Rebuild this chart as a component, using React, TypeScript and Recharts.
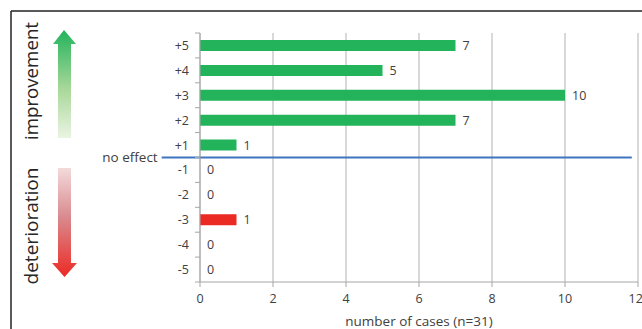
import React from 'react';
import { BarChart, Bar, XAxis, YAxis, CartesianGrid, Cell, LabelList, ReferenceLine } from 'recharts';

const categories = ['+5', '+4', '+3', '+2', '+1', '-1', '-2', '-3', '-4', '-5'];
const cases = [7, 5, 10, 7, 1, 0, 0, 1, 0, 0];
const xTicks = [0, 2, 4, 6, 8, 10, 12];
const noEffectFrom = -1.05;
const noEffectTo = 11.83;

const data = categories.map((c, i) => ({ category: c, cases: cases[i] }));

const GREEN = '#22B35B';
const RED = '#EC2A24';
const FONT = '"Open Sans", "Liberation Sans", sans-serif';
const TEXT = '#404040';

const YTick = (props: any) => {
  const { x, y, payload, index, visibleTicksCount } = props;
  const half = payload && payload.offset ? payload.offset : 12.45;
  const axisX = x + 11;
  const last = index === (visibleTicksCount ?? categories.length) - 1;
  return (
    <g>
      <line x1={axisX - 5} x2={axisX} y1={y - half} y2={y - half} stroke="#A6A6A6" />
      {last && <line x1={axisX - 5} x2={axisX} y1={y + half} y2={y + half} stroke="#A6A6A6" />}
      <text x={x} y={y} dy={4.5} textAnchor="end" fontSize={12.5} fill={TEXT} fontFamily={FONT}>
        {payload.value}
      </text>
    </g>
  );
};

export default function App() {
  return (
    <div style={{ position: 'fixed', left: 0, top: 0, width: 642, height: 329, background: '#fff' }}>
      <BarChart
        width={642}
        height={329}
        data={data}
        layout="vertical"
        margin={{ top: 33, right: 4, bottom: 0, left: 0 }}
        barSize={11}
      >
        <CartesianGrid horizontal={false} vertical={true} stroke="#BFBFBF" strokeWidth={1.2} />
        <XAxis
          type="number"
          dataKey="cases"
          domain={[0, 12]}
          ticks={xTicks}
          height={47}
          stroke="#A6A6A6"
          tickSize={5}
          tickMargin={7}
          tick={{ fontSize: 12.5, fill: TEXT, fontFamily: FONT }}
          label={{
            value: 'number of cases (n=31)',
            position: 'insideBottom',
            offset: 3,
            fontSize: 13.5,
            fill: TEXT,
            fontFamily: FONT,
          }}
        />
        <YAxis
          type="category"
          dataKey="category"
          width={200}
          stroke="#A6A6A6"
          tickLine={false}
          tickSize={0}
          tickMargin={11}
          tick={<YTick />}
          interval={0}
        />
        <Bar dataKey="cases" isAnimationActive={false} minPointSize={0.01}>
          {data.map((d, i) => (
            <Cell key={i} fill={d.category.startsWith('+') ? GREEN : RED} />
          ))}
          <LabelList
            dataKey="cases"
            position="right"
            offset={7}
            fill={TEXT}
            fontSize={12.5}
            fontFamily={FONT}
          />
        </Bar>
        <ReferenceLine
          segment={[
            { x: noEffectFrom, y: '+1' },
            { x: noEffectTo, y: '+1' },
          ]}
          position="end"
          ifOverflow="visible"
          stroke="#3F74C0"
          strokeWidth={2}
          label={{ value: 'no effect', position: 'left', offset: 4, fontSize: 13.5, fill: TEXT, fontFamily: FONT }}
        />
      </BarChart>
      <svg
        width={642}
        height={329}
        style={{ position: 'absolute', left: 0, top: 0, pointerEvents: 'none' }}
      >
        <defs>
          <linearGradient id="gUp" x1="0" y1="0" x2="0" y2="1">
            <stop offset="0%" stopColor="#22B35B" />
            <stop offset="55%" stopColor="#A9D89A" />
            <stop offset="100%" stopColor="#EAF4E2" />
          </linearGradient>
          <linearGradient id="gDown" x1="0" y1="0" x2="0" y2="1">
            <stop offset="0%" stopColor="#F3DADB" />
            <stop offset="45%" stopColor="#D98A8E" />
            <stop offset="100%" stopColor="#EC2A24" />
          </linearGradient>
        </defs>
        <line x1={11} y1={11} x2={642} y2={11} stroke="#222" strokeWidth={1.5} />
        <line x1={11} y1={11} x2={11} y2={329} stroke="#222" strokeWidth={1.5} />
        <path d="M64,30 L76,44 L71,44 L71,138 L58,138 L58,44 L53,44 Z" fill="url(#gUp)" />
        <path d="M58,168 L71,168 L71,263 L77,263 L64.5,277 L52,263 L58,263 Z" fill="url(#gDown)" />
        <text
          transform="translate(38,81) rotate(-90)"
          textAnchor="middle"
          fontSize={19}
          fill="#262626"
          fontFamily={FONT}
          textLength={118}
          lengthAdjust="spacingAndGlyphs"
        >
          improvement
        </text>
        <text
          transform="translate(38,226) rotate(-90)"
          textAnchor="middle"
          fontSize={19}
          fill="#262626"
          fontFamily={FONT}
          textLength={117}
          lengthAdjust="spacingAndGlyphs"
        >
          deterioration
        </text>
      </svg>
    </div>
  );
}
